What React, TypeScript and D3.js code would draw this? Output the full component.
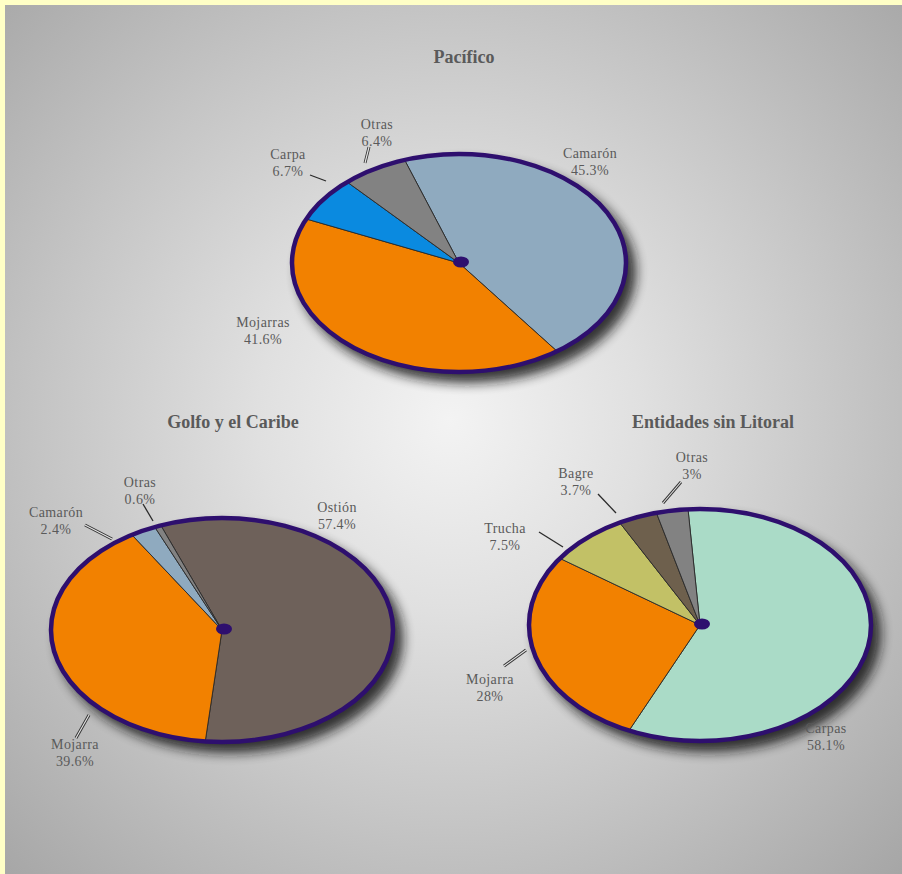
import React from "react";
import * as d3 from "d3";

const W = 902;
const H = 874;

// ---- Data ----
const pacificoNames = ["Camarón", "Mojarras", "Carpa", "Otras"];
const pacificoValues = [45.3, 41.6, 6.7, 6.4];

const golfoNames = ["Ostión", "Mojarra", "Camarón", "Otras"];
const golfoValues = [57.4, 39.6, 2.4, 0.6];

const litoralNames = ["Carpas", "Mojarra", "Trucha", "Bagre", "Otras"];
const litoralValues = [58.1, 28, 7.5, 3.7, 3];

const chartTitles = ["Pacífico", "Golfo y el Caribe", "Entidades sin Litoral"];

// ---- Styles / layout ----
const colorMap: Record<string, string> = {
  "Camarón": "#8faabf",
  "Mojarras": "#f28100",
  "Mojarra": "#f28100",
  "Carpa": "#0a8ae0",
  "Otras": "#828282",
  "Ostión": "#6e615a",
  "Carpas": "#aadbc7",
  "Trucha": "#c2c166",
  "Bagre": "#6e604d",
};

type Leader = { x1: number; y1: number; x2: number; y2: number; dbl: boolean };
type Spec = {
  title: string;
  titleX: number;
  titleY: number;
  names: string[];
  values: number[];
  cx: number;
  cy: number;
  rx: number;
  ry: number;
  startDeg: number;
  labelPos: [number, number][];
  leaders: Leader[];
};

const specs: Spec[] = [
  {
    title: chartTitles[0],
    titleX: 464,
    titleY: 63,
    names: pacificoNames,
    values: pacificoValues,
    cx: 459,
    cy: 263,
    rx: 167,
    ry: 109,
    startDeg: -19,
    labelPos: [
      [590, 158],
      [263, 327],
      [288, 159],
      [377, 129],
    ],
    leaders: [
      { x1: 310, y1: 175, x2: 326, y2: 181, dbl: false },
      { x1: 369, y1: 147, x2: 365, y2: 163, dbl: true },
    ],
  },
  {
    title: chartTitles[1],
    titleX: 233,
    titleY: 428,
    names: golfoNames,
    values: golfoValues,
    cx: 222,
    cy: 630,
    rx: 171,
    ry: 112,
    startDeg: -21,
    labelPos: [
      [337, 512],
      [75, 749],
      [56, 517],
      [140, 487],
    ],
    leaders: [
      { x1: 85, y1: 525, x2: 112, y2: 539, dbl: true },
      { x1: 143, y1: 504, x2: 153, y2: 521, dbl: false },
      { x1: 89, y1: 715, x2: 76, y2: 738, dbl: true },
    ],
  },
  {
    title: chartTitles[2],
    titleX: 713,
    titleY: 428,
    names: litoralNames,
    values: litoralValues,
    cx: 700,
    cy: 625,
    rx: 171,
    ry: 116,
    startDeg: -4,
    labelPos: [
      [826, 733],
      [490, 684],
      [505, 533],
      [576, 478],
      [692, 462],
    ],
    leaders: [
      { x1: 681, y1: 482, x2: 663, y2: 503, dbl: true },
      { x1: 598, y1: 494, x2: 616, y2: 513, dbl: false },
      { x1: 539, y1: 532, x2: 563, y2: 547, dbl: false },
      { x1: 504, y1: 666, x2: 526, y2: 650, dbl: true },
    ],
  },
];

const BORDER = "#2e0f6e";
const TEXT = "#5a5a5a";
const SERIF = "'Liberation Serif', 'DejaVu Serif', 'Times New Roman', serif";

const fmt = (v: number) => `${v}%`;

function PieChart({ s }: { s: Spec }) {
  const start = (s.startDeg * Math.PI) / 180;
  const pie = d3
    .pie<number>()
    .sort(null)
    .value((d) => d)
    .startAngle(start)
    .endAngle(start + 2 * Math.PI);
  const arcs = pie(s.values);
  const arc = d3.arc<d3.PieArcDatum<number>>().innerRadius(0).outerRadius(1);

  return (
    <g>
      <text
        x={s.titleX}
        y={s.titleY}
        textAnchor="middle"
        fontFamily={SERIF}
        fontWeight="bold"
        fontSize={18}
        fill={TEXT}
      >
        {s.title}
      </text>
      {/* shadow */}
      <ellipse
        cx={s.cx + 8}
        cy={s.cy + 9}
        rx={s.rx + 2}
        ry={s.ry + 2}
        fill="#151515"
        opacity={0.85}
        filter="url(#shadowBlur)"
      />
      <g transform={`translate(${s.cx},${s.cy}) scale(${s.rx},${s.ry})`}>
        {arcs.map((a, i) => (
          <path
            key={i}
            d={arc(a) || ""}
            fill={colorMap[s.names[i]]}
            stroke="#2a2a2a"
            strokeWidth={0.9}
            vectorEffect="non-scaling-stroke"
          />
        ))}
      </g>
      <ellipse
        cx={s.cx}
        cy={s.cy}
        rx={s.rx}
        ry={s.ry}
        fill="none"
        stroke={BORDER}
        strokeWidth={4.5}
      />
      <ellipse cx={s.cx + 2} cy={s.cy - 1} rx={8} ry={5.5} fill={BORDER} />
      {s.leaders.map((l, i) =>
        l.dbl ? (
          <g key={i}>
            <line x1={l.x1} y1={l.y1} x2={l.x2} y2={l.y2} stroke="#333" strokeWidth={3} />
            <line x1={l.x1} y1={l.y1} x2={l.x2} y2={l.y2} stroke="#e6e6e6" strokeWidth={1.1} />
          </g>
        ) : (
          <line key={i} x1={l.x1} y1={l.y1} x2={l.x2} y2={l.y2} stroke="#2a2a2a" strokeWidth={1.3} />
        )
      )}
      {s.names.map((n, i) => (
        <text
          key={n + i}
          x={s.labelPos[i][0]}
          y={s.labelPos[i][1]}
          textAnchor="middle"
          fontFamily={SERIF}
          fontSize={14}
          letterSpacing={0.4}
          fill={TEXT}
        >
          <tspan x={s.labelPos[i][0]}>{n}</tspan>
          <tspan x={s.labelPos[i][0]} dy={16.5}>
            {fmt(s.values[i])}
          </tspan>
        </text>
      ))}
    </g>
  );
}

export default function App() {
  return (
    <svg
      width={W}
      height={H}
      style={{ position: "absolute", left: 0, top: 0, display: "block" }}
    >
      <defs>
        <radialGradient id="bg" gradientUnits="userSpaceOnUse" cx={450} cy={420} r={640}>
          <stop offset="0" stopColor="#f3f3f3" />
          <stop offset="0.3" stopColor="#e0e0e0" />
          <stop offset="0.62" stopColor="#c6c6c6" />
          <stop offset="1" stopColor="#a6a6a6" />
        </radialGradient>
        <filter id="shadowBlur" x="-20%" y="-20%" width="140%" height="140%">
          <feGaussianBlur stdDeviation={6} />
        </filter>
      </defs>
      <rect x={0} y={0} width={W} height={H} fill="#ffffc6" />
      <rect x={5} y={5} width={W - 5} height={H - 5} fill="url(#bg)" />
      {specs.map((s, i) => (
        <PieChart key={i} s={s} />
      ))}
    </svg>
  );
}
